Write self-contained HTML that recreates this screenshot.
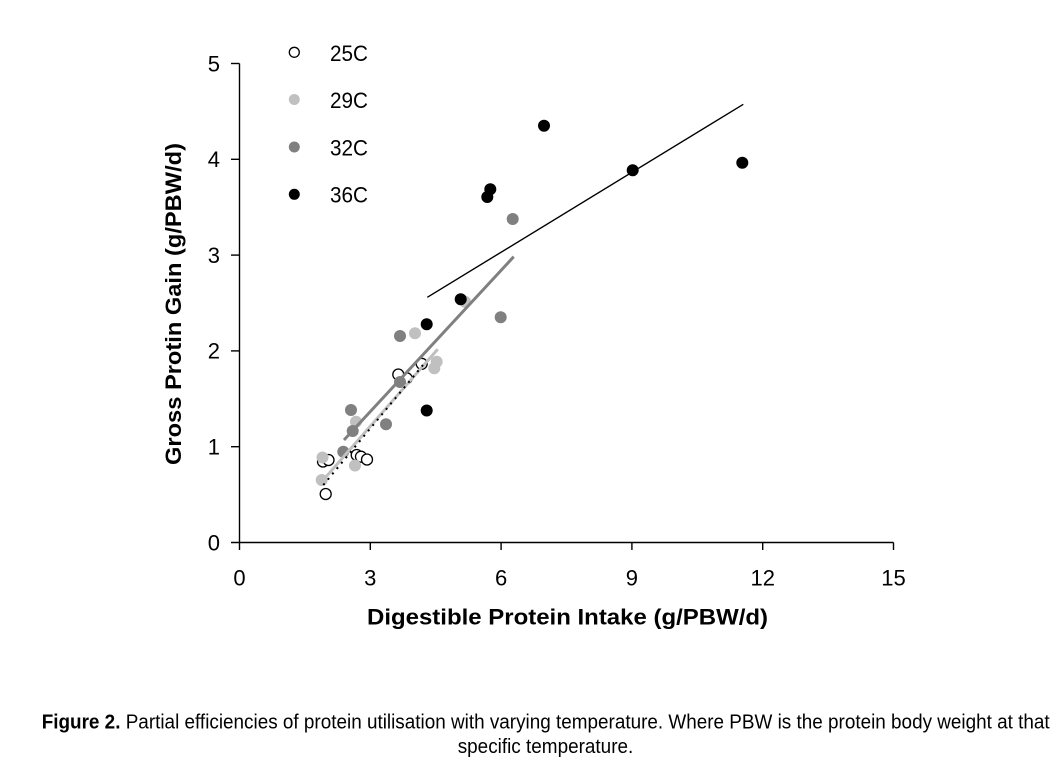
<!DOCTYPE html>
<html>
<head>
<meta charset="utf-8">
<style>
html,body{margin:0;padding:0;background:#fff;}
svg{display:block;}
text{font-family:"Liberation Sans",Arial,sans-serif;fill:#000;}
</style>
</head>
<body>
<svg width="1055" height="764" viewBox="0 0 1055 764" xmlns="http://www.w3.org/2000/svg">
<rect width="1055" height="764" fill="#fff"/>

<!-- axes -->
<g stroke="#000" stroke-width="1.4" fill="none">
  <line x1="239.5" y1="63.5" x2="239.5" y2="542.5"/>
  <line x1="231" y1="542.5" x2="893.5" y2="542.5"/>
  <line x1="231" y1="446.7" x2="239.5" y2="446.7"/>
  <line x1="231" y1="350.9" x2="239.5" y2="350.9"/>
  <line x1="231" y1="255.1" x2="239.5" y2="255.1"/>
  <line x1="231" y1="159.3" x2="239.5" y2="159.3"/>
  <line x1="231" y1="63.5" x2="239.5" y2="63.5"/>
  <line x1="239.5" y1="542.5" x2="239.5" y2="550"/>
  <line x1="370.3" y1="542.5" x2="370.3" y2="550"/>
  <line x1="501.1" y1="542.5" x2="501.1" y2="550"/>
  <line x1="631.9" y1="542.5" x2="631.9" y2="550"/>
  <line x1="762.7" y1="542.5" x2="762.7" y2="550"/>
  <line x1="893.5" y1="542.5" x2="893.5" y2="550"/>
</g>

<!-- y tick labels -->
<g font-size="22" text-anchor="end">
  <text x="220" y="550.5">0</text>
  <text x="220" y="454.5">1</text>
  <text x="220" y="358.5">2</text>
  <text x="220" y="263">3</text>
  <text x="220" y="167">4</text>
  <text x="220" y="71.5">5</text>
</g>
<!-- x tick labels -->
<g font-size="22" text-anchor="middle">
  <text x="239.5" y="585.5">0</text>
  <text x="370.3" y="585.5">3</text>
  <text x="501.1" y="585.5">6</text>
  <text x="631.9" y="585.5">9</text>
  <text x="762.7" y="585.5">12</text>
  <text x="893.5" y="585.5">15</text>
</g>

<!-- axis titles -->
<text x="367" y="624.5" font-size="22" font-weight="bold" textLength="401" lengthAdjust="spacingAndGlyphs">Digestible Protein Intake (g/PBW/d)</text>
<text transform="translate(181,465) rotate(-90)" font-size="22" font-weight="bold" textLength="322" lengthAdjust="spacingAndGlyphs">Gross Protin Gain (g/PBW/d)</text>

<!-- legend -->
<circle cx="294.3" cy="52.3" r="5" fill="#fff" stroke="#000" stroke-width="1.3"/>
<circle cx="294.3" cy="99.5" r="5.5" fill="#c0c0c0"/>
<circle cx="294.3" cy="147" r="5.5" fill="#808080"/>
<circle cx="294.3" cy="194.3" r="5.5" fill="#000"/>
<g font-size="22">
  <text x="330" y="61" textLength="38" lengthAdjust="spacingAndGlyphs">25C</text>
  <text x="330" y="108" textLength="38" lengthAdjust="spacingAndGlyphs">29C</text>
  <text x="330" y="155.5" textLength="38" lengthAdjust="spacingAndGlyphs">32C</text>
  <text x="330" y="202.5" textLength="38" lengthAdjust="spacingAndGlyphs">36C</text>
</g>

<!-- 25C open circles -->
<g fill="#fff" stroke="#000" stroke-width="1.3">
  <circle cx="323" cy="461.5" r="5.5"/>
  <circle cx="328.5" cy="460" r="5.5"/>
  <circle cx="325.7" cy="494" r="5.5"/>
  <circle cx="356.7" cy="455" r="5.5"/>
  <circle cx="361" cy="456.7" r="5.5"/>
  <circle cx="367" cy="459.5" r="5.5"/>
  <circle cx="406.7" cy="378.3" r="5.5"/>
  <circle cx="398.3" cy="374.5" r="5.5"/>
  <circle cx="421.7" cy="363.8" r="5.5"/>
</g>

<!-- 29C light gray -->
<g fill="#c0c0c0">
  <circle cx="322.5" cy="457.5" r="6"/>
  <circle cx="321.7" cy="480" r="6"/>
  <circle cx="355" cy="465.5" r="6"/>
  <circle cx="356" cy="421.7" r="6"/>
  <circle cx="415" cy="333.3" r="6"/>
  <circle cx="436.7" cy="361.7" r="6"/>
  <circle cx="434.3" cy="368.3" r="6"/>
  <circle cx="465" cy="301.7" r="6"/>
</g>

<!-- 32C gray -->
<g fill="#808080">
  <circle cx="512.7" cy="219" r="6"/>
  <circle cx="500.7" cy="317.3" r="6"/>
  <circle cx="400" cy="336" r="6"/>
  <circle cx="351" cy="410" r="6"/>
  <circle cx="352.7" cy="431" r="6"/>
  <circle cx="386" cy="424.3" r="6"/>
  <circle cx="343.3" cy="451.7" r="6"/>
  <circle cx="400" cy="382" r="6"/>
</g>

<!-- 36C black -->
<g fill="#000">
  <circle cx="544" cy="125.7" r="6"/>
  <circle cx="632.7" cy="170.3" r="6"/>
  <circle cx="742.3" cy="162.7" r="6"/>
  <circle cx="490.3" cy="189.3" r="6"/>
  <circle cx="487.3" cy="197" r="6"/>
  <circle cx="460.7" cy="299.3" r="6"/>
  <circle cx="426.7" cy="324.3" r="6"/>
  <circle cx="426.7" cy="410.5" r="6"/>
</g>

<!-- trend lines -->
<line x1="427.3" y1="297.3" x2="743.3" y2="104.3" stroke="#000" stroke-width="1.4"/>
<line x1="344" y1="440" x2="513.7" y2="256.7" stroke="#808080" stroke-width="3"/>
<line x1="321.7" y1="481.7" x2="437.7" y2="349.3" stroke="#c0c0c0" stroke-width="3"/>
<line x1="323.3" y1="485" x2="423" y2="365" stroke="#000" stroke-width="2" stroke-dasharray="2 5"/>

<!-- caption -->
<text x="41.7" y="728.5" font-size="20" textLength="1008" lengthAdjust="spacingAndGlyphs"><tspan font-weight="bold">Figure 2.</tspan> Partial efficiencies of protein utilisation with varying temperature. Where PBW is the protein body weight at that</text>
<text x="457.7" y="753" font-size="20" textLength="175.6" lengthAdjust="spacingAndGlyphs">specific temperature.</text>
</svg>
</body>
</html>
